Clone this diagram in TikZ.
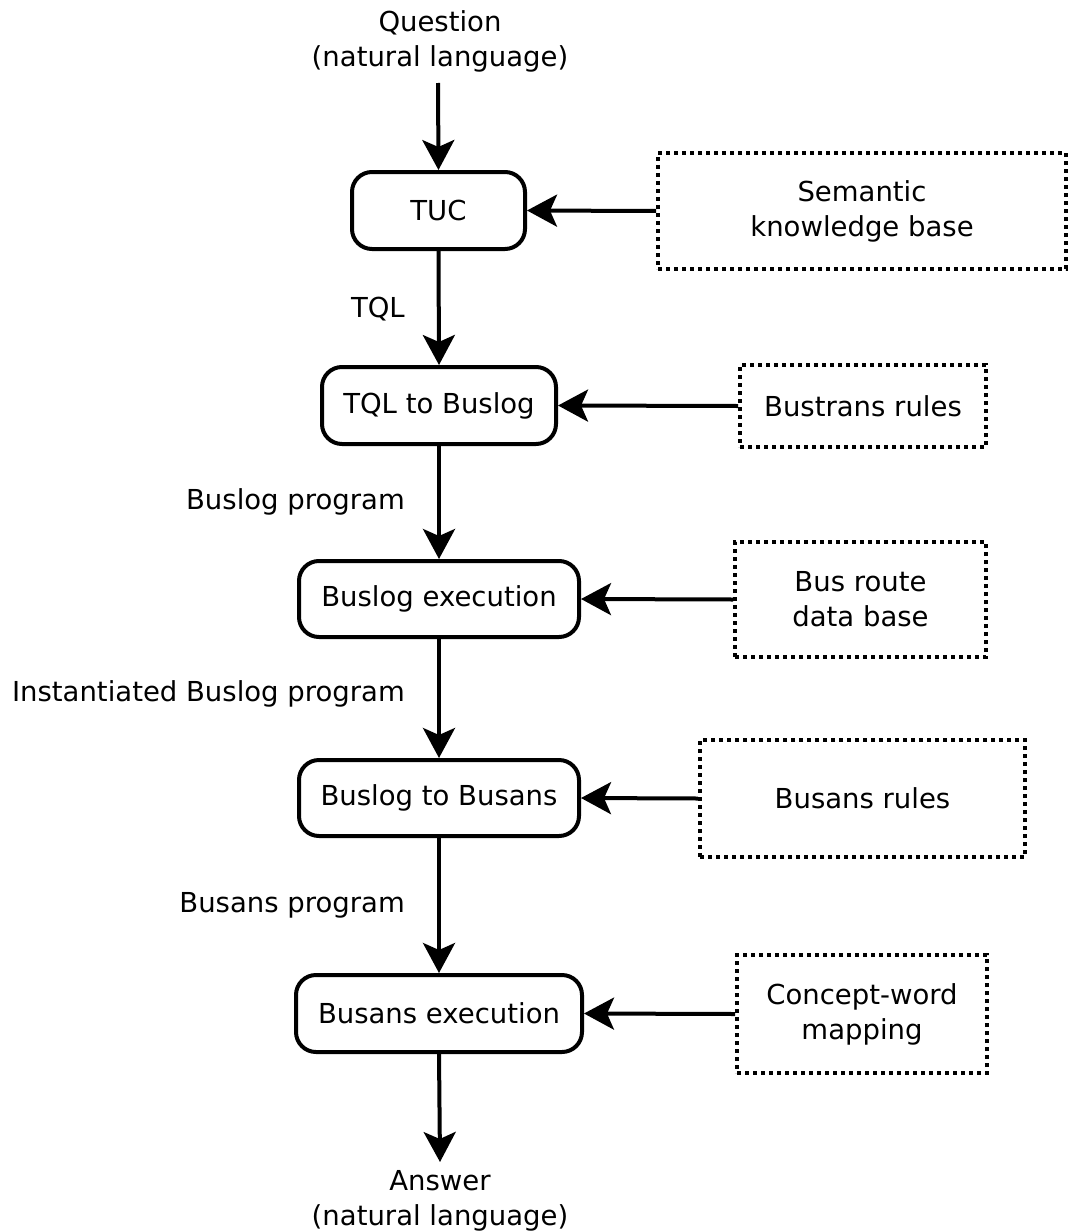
\documentclass[tikz,border=0pt]{standalone}
\usepackage{fontspec}
\setmainfont{DejaVu Sans}
\usetikzlibrary{arrows.meta}
\begin{document}
\begin{tikzpicture}[x=1pt,y=-1pt,
  font=\fontsize{27.5}{35}\selectfont,
  proc/.style={draw,line width=4pt,rounded corners=20pt,inner sep=0pt,align=center},
  src/.style={draw,line width=4pt,dash pattern=on 4pt off 4pt,inner sep=0pt,align=center},
  flow/.style={line width=4pt,-{Stealth[length=30pt,width=32pt,inset=7pt]}},
  lbl/.style={anchor=east,inner sep=0pt}]
\useasboundingbox (0,0) rectangle (1068,1231);
\node[align=center,inner sep=0pt] (q) at (440,41) {Question\\(natural language)};
\node[proc,minimum width=173pt,minimum height=77pt] (tuc) at (438.5,210.5) {TUC};
\node[src,minimum width=408pt,minimum height=116pt] (skb) at (862,211) {Semantic\\knowledge base};
\node[proc,minimum width=234pt,minimum height=77pt] (tqlb) at (439,405.5) {TQL to Buslog};
\node[src,minimum width=246pt,minimum height=82pt] (btr) at (863,406) {Bustrans rules};
\node[proc,minimum width=280pt,minimum height=76pt] (bex) at (439,599) {Buslog execution};
\node[src,minimum width=251pt,minimum height=115pt] (brd) at (860.5,599.5) {Bus route\\data base};
\node[proc,minimum width=280pt,minimum height=76pt] (bb) at (439,798) {Buslog to Busans};
\node[src,minimum width=325pt,minimum height=117pt] (bsr) at (862.5,798.5) {Busans rules};
\node[proc,minimum width=286pt,minimum height=77pt] (bsx) at (439,1013.5) {Busans execution};
\node[src,minimum width=250pt,minimum height=118pt] (cwm) at (862,1014) {Concept-word\\mapping};
\node[align=center,inner sep=0pt] (ans) at (440,1201) {Answer\\(natural language)};
\node[lbl] (l1) at (405,309) {TQL};
\node[lbl] (l2) at (405,502) {Buslog program};
\node[lbl] (l3) at (405,694) {Instantiated Buslog program};
\node[lbl] (l4) at (405,905) {Busans program};
\coordinate (qe) at (438,83);
\coordinate (ae) at (440,1162);
\draw[flow] (qe) -- (tuc.north);
\draw[flow] (skb.west) -- (tuc.east);
\draw[flow] (tuc.south) -- (tqlb.north);
\draw[flow] (btr.west) -- (tqlb.east);
\draw[flow] (tqlb.south) -- (bex.north);
\draw[flow] (brd.west) -- (bex.east);
\draw[flow] (bex.south) -- (bb.north);
\draw[flow] (bsr.west) -- (bb.east);
\draw[flow] (bb.south) -- (bsx.north);
\draw[flow] (cwm.west) -- (bsx.east);
\draw[flow] (bsx.south) -- (ae);
\end{tikzpicture}
\end{document}
